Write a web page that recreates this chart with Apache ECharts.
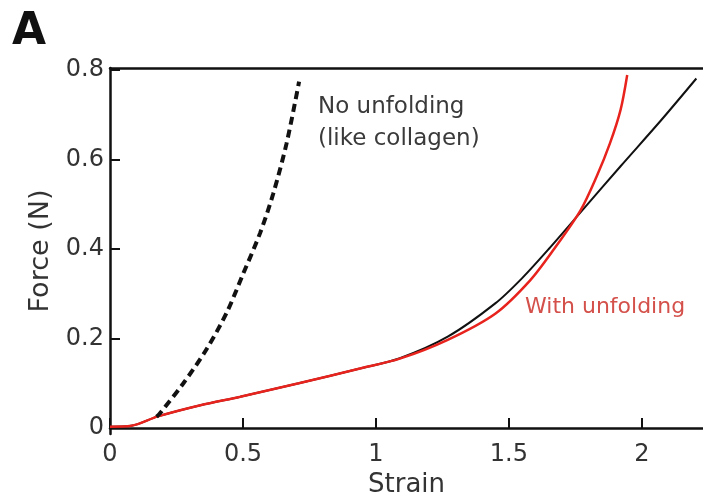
<!DOCTYPE html>
<html>
<head>
<meta charset="utf-8">
<script src="https://cdn.jsdelivr.net/npm/echarts@6/dist/echarts.min.js"></script>
<style>
  html, body { margin: 0; padding: 0; background: #fff; }
  #main { width: 703px; height: 503px; }
</style>
</head>
<body>
<div id="main"></div>
<script>
// measured curve (black)
var measuredStrain = [0, 0.08, 0.18, 0.34, 0.49, 0.71, 0.94, 1.09, 1.27, 1.45, 1.55, 1.65, 1.78, 1.92, 2.07, 2.205];
var measuredForce = [0.003, 0.005, 0.026, 0.051, 0.07, 0.1, 0.133, 0.156, 0.204, 0.279, 0.335, 0.4, 0.489, 0.585, 0.686, 0.781];
// model with unfolding (red)
var unfoldStrain = [0, 0.08, 0.18, 0.34, 0.49, 0.71, 0.94, 1.09, 1.27, 1.45, 1.58, 1.67, 1.77, 1.83, 1.88, 1.92, 1.945];
var unfoldForce = [0.003, 0.005, 0.026, 0.051, 0.07, 0.1, 0.133, 0.155, 0.197, 0.256, 0.33, 0.4, 0.487, 0.562, 0.636, 0.711, 0.789];
// model without unfolding (dashed)
var noUnfoldStrain = [0.175, 0.188, 0.276, 0.363, 0.439, 0.501, 0.564, 0.614, 0.664, 0.711];
var noUnfoldForce = [0.025, 0.033, 0.1, 0.176, 0.258, 0.345, 0.435, 0.524, 0.636, 0.774];

var xTicks = [0, 0.5, 1, 1.5, 2];
var yTicks = [0, 0.2, 0.4, 0.6, 0.8];

function pairs(xs, ys) {
  var out = [];
  for (var i = 0; i < xs.length; i++) {
    out.push([xs[i], ys[i]]);
  }
  return out;
}

var font = 'DejaVu Sans';
var chart = echarts.init(document.getElementById('main'));

var option = {
  backgroundColor: '#fff',
  animation: false,
  grid: { left: 110, top: 68, right: 0, bottom: 69 },
  xAxis: [{
    type: 'value',
    min: 0,
    max: 2.23,
    name: 'Strain',
    nameLocation: 'middle',
    nameGap: 37,
    nameTextStyle: { fontFamily: font, fontSize: 26, color: '#333' },
    axisLine: { lineStyle: { color: '#111', width: 2.5 } },
    axisTick: { inside: true, length: 10, customValues: xTicks, lineStyle: { color: '#111', width: 2 } },
    axisLabel: {
      customValues: xTicks, margin: 9,
      fontFamily: font, fontSize: 24, color: '#333',
      formatter: function (v) { return String(v); }
    },
    splitLine: { show: false }
  }, {
    type: 'value',
    position: 'top',
    min: 0,
    max: 2.23,
    axisLine: { lineStyle: { color: '#111', width: 2.5 } },
    axisTick: { show: false },
    axisLabel: { show: false },
    splitLine: { show: false }
  }],
  yAxis: {
    type: 'value',
    min: -0.0134,
    max: 0.8045,
    name: 'Force (N)',
    nameLocation: 'middle',
    nameGap: 50,
    nameTextStyle: { fontFamily: font, fontSize: 27, color: '#333' },
    axisLine: { lineStyle: { color: '#111', width: 2.5 } },
    axisTick: { inside: true, length: 10, customValues: yTicks, lineStyle: { color: '#111', width: 2 } },
    axisLabel: {
      customValues: yTicks, margin: 6,
      fontFamily: font, fontSize: 24, color: '#333',
      formatter: function (v) { return String(v); }
    },
    splitLine: { show: false }
  },
  series: [{
    name: 'measured',
    type: 'line',
    smooth: 0.3,
    showSymbol: false,
    data: pairs(measuredStrain, measuredForce),
    lineStyle: { color: '#111', width: 2 }
  }, {
    name: 'With unfolding',
    type: 'line',
    smooth: 0.3,
    showSymbol: false,
    data: pairs(unfoldStrain, unfoldForce),
    lineStyle: { color: '#e8231d', width: 2.5 }
  }, {
    name: 'No unfolding',
    type: 'line',
    smooth: 0.3,
    showSymbol: false,
    data: pairs(noUnfoldStrain, noUnfoldForce),
    lineStyle: { color: '#111', width: 4, type: [8, 5] }
  }],
  graphic: [{
    type: 'text',
    left: 12,
    top: 11,
    style: { text: 'A', font: 'bold 44px "DejaVu Sans"', fill: '#111' }
  }, {
    type: 'text',
    x: 318,
    y: 91,
    style: { text: 'No unfolding\n(like collagen)', font: '23px "DejaVu Sans"', fill: '#3a3a3a', lineHeight: 32 }
  }, {
    type: 'text',
    x: 525,
    y: 296,
    style: { text: 'With unfolding', font: '22px "DejaVu Sans"', fill: '#d4504a' }
  }]
};

chart.setOption(option);
</script>
</body>
</html>
